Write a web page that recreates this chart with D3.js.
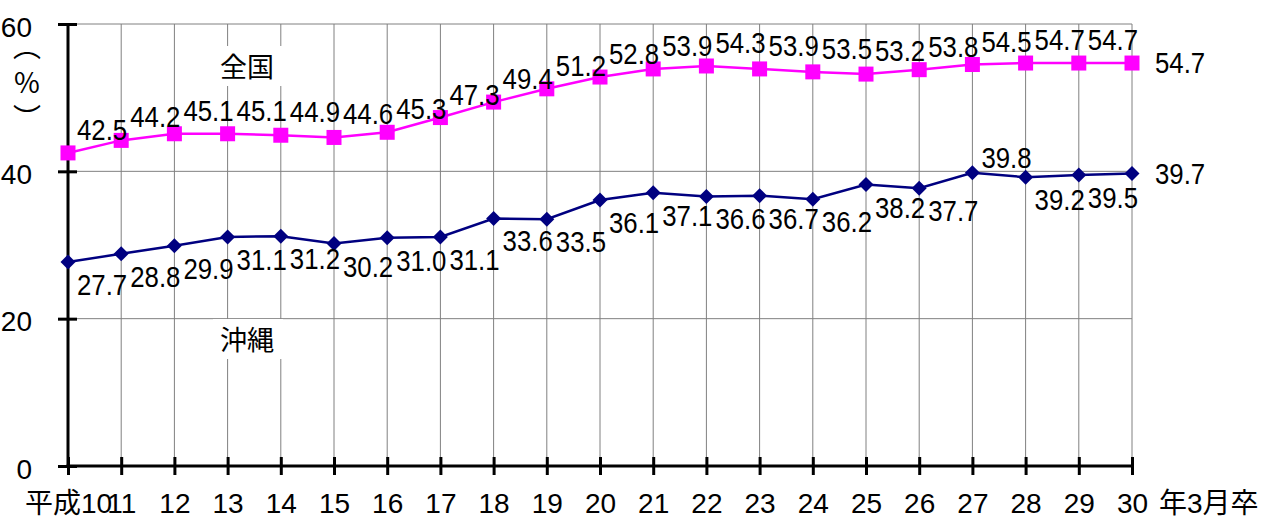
<!DOCTYPE html>
<html>
<head>
<meta charset="utf-8">
<script src="https://cdn.jsdelivr.net/npm/d3@7"></script>
<style>
  body { margin: 0; background: #fff; }
  svg { display: block; }
</style>
</head>
<body>
<div id="chart"></div>
<script>
// categories (卒業年) and series
var years = ['平成10', '11', '12', '13', '14', '15', '16', '17', '18', '19', '20',
  '21', '22', '23', '24', '25', '26', '27', '28', '29', '30'];
var zenkoku = [42.5, 44.2, 45.1, 45.1, 44.9, 44.6, 45.3, 47.3, 49.4, 51.2, 52.8,
  53.9, 54.3, 53.9, 53.5, 53.2, 53.8, 54.5, 54.7, 54.7, 54.7];
var okinawa = [27.7, 28.8, 29.9, 31.1, 31.2, 30.2, 31.0, 31.1, 33.6, 33.5, 36.1,
  37.1, 36.6, 36.7, 36.2, 38.2, 37.7, 39.8, 39.2, 39.5, 39.7];
var yTicks = [0, 20, 40, 60];
var okiAbove = ['27']; // label drawn above the marker

var width = 1272,
  height = 521,
  mLeft = 68, mRight = 1132, mTop = 24, mBottom = 466,
  tickFont = '"Liberation Sans", "Noto Sans CJK JP", sans-serif',
  jpFont = '"Noto Sans CJK JP", sans-serif';

var x = d3.scalePoint().domain(years).range([mLeft, mRight]),
  y = d3.scaleLinear().domain([0, 60]).range([mBottom, mTop]);

var svg = d3.select('#chart').append('svg')
  .attr('width', width).attr('height', height);

// grid
svg.append('g')
  .selectAll('line')
  .data(years)
  .enter()
  .append('line')
  .attr('x1', d => x(d)).attr('x2', d => x(d))
  .attr('y1', y(0)).attr('y2', y(60))
  .style('stroke', '#808080').style('stroke-width', 1);

svg.append('g')
  .selectAll('line')
  .data(yTicks.filter(d => d > 0))
  .enter()
  .append('line')
  .attr('x1', mLeft).attr('x2', mRight)
  .attr('y1', d => y(d)).attr('y2', d => y(d))
  .style('stroke', '#808080').style('stroke-width', 1);

// series name boxes
function nameBox(txt, cx, cy) {
  svg.append('rect')
    .attr('x', cx - 34).attr('y', cy - 21)
    .attr('width', 70).attr('height', 40)
    .style('fill', '#fff');
  svg.append('text')
    .attr('x', cx).attr('y', cy + 10)
    .attr('text-anchor', 'middle')
    .style('font-family', jpFont)
    .style('font-size', '27px')
    .text(txt);
}
nameBox('全国', 247, 67);
nameBox('沖縄', 247, 340);

// axes
var yAxis = svg.append('g')
  .attr('transform', 'translate(' + mLeft + ',0)')
  .call(d3.axisLeft(y).tickValues(yTicks).tickSize(10).tickPadding(26));
yAxis.select('.domain').remove();
yAxis.selectAll('.tick line').attr('x1', 9).attr('x2', -10)
  .style('stroke', '#000').style('stroke-width', 3);
yAxis.selectAll('.tick text')
  .attr('dy', null).attr('y', 12)
  .style('font-family', tickFont).style('font-size', '28px').style('fill', '#000');

var xAxis = svg.append('g')
  .attr('transform', 'translate(0,' + mBottom + ')')
  .call(d3.axisBottom(x).tickSize(9).tickPadding(0));
xAxis.select('.domain').remove();
xAxis.selectAll('.tick line').attr('y1', -9).attr('y2', 9)
  .style('stroke', '#000').style('stroke-width', 3);
xAxis.selectAll('.tick text')
  .attr('dy', null).attr('y', 47)
  .style('font-family', tickFont).style('font-size', '28px').style('fill', '#000');

svg.append('line')
  .attr('x1', mLeft).attr('x2', mLeft)
  .attr('y1', mTop).attr('y2', mBottom + 1.5)
  .style('stroke', '#000').style('stroke-width', 3);
svg.append('line')
  .attr('x1', mLeft - 1.5).attr('x2', mRight)
  .attr('y1', mBottom).attr('y2', mBottom)
  .style('stroke', '#000').style('stroke-width', 3);

// y unit: vertical （%）
svg.append('text')
  .attr('x', 27).attr('y', 32)
  .style('writing-mode', 'vertical-rl')
  .style('text-orientation', 'upright')
  .style('font-family', jpFont)
  .style('font-size', '28px')
  .style('letter-spacing', '8px')
  .text('（%）');

svg.append('text')
  .attr('x', 1159).attr('y', 513)
  .style('font-family', tickFont)
  .style('font-size', '28px')
  .text('年3月卒');

// lines and markers
var line = d3.line()
  .x(function(d, i) { return x(years[i]); })
  .y(function(d) { return y(d); });

svg.append('path')
  .datum(zenkoku)
  .attr('d', line)
  .style('fill', 'none').style('stroke', '#ff00ff').style('stroke-width', 2.5);

svg.append('path')
  .datum(okinawa)
  .attr('d', line)
  .style('fill', 'none').style('stroke', '#000080').style('stroke-width', 2.5);

svg.append('g')
  .selectAll('rect')
  .data(zenkoku)
  .enter()
  .append('rect')
  .attr('x', (d, i) => x(years[i]) - 7.5)
  .attr('y', d => y(d) - 7.5)
  .attr('width', 15).attr('height', 15)
  .style('fill', '#ff00ff');

svg.append('g')
  .selectAll('path')
  .data(okinawa)
  .enter()
  .append('path')
  .attr('transform', (d, i) => 'translate(' + x(years[i]) + ',' + y(d) + ')')
  .attr('d', 'M0,-7.5L7.5,0L0,7.5L-7.5,0Z')
  .style('fill', '#000080');

// data labels (narrow digits)
function labels(values, dyFn) {
  svg.append('g')
    .style('font-family', tickFont)
    .style('font-size', '30px')
    .selectAll('text')
    .data(values)
    .enter()
    .append('text')
    .attr('transform', function(d, i) {
      var last = i === years.length - 1;
      var px = x(years[i]) + (last ? 23 : 9),
        py = y(d) + dyFn(i);
      return 'translate(' + px + ',' + py + ') scale(0.86,1)';
    })
    .text(d => d.toFixed(1));
}
labels(zenkoku, function(i) {
  return i === years.length - 1 ? 10 : -13;
});
labels(okinawa, function(i) {
  if (i === years.length - 1) return 10;
  return okiAbove.indexOf(years[i]) >= 0 ? -5 : 33;
});
</script>
</body>
</html>
